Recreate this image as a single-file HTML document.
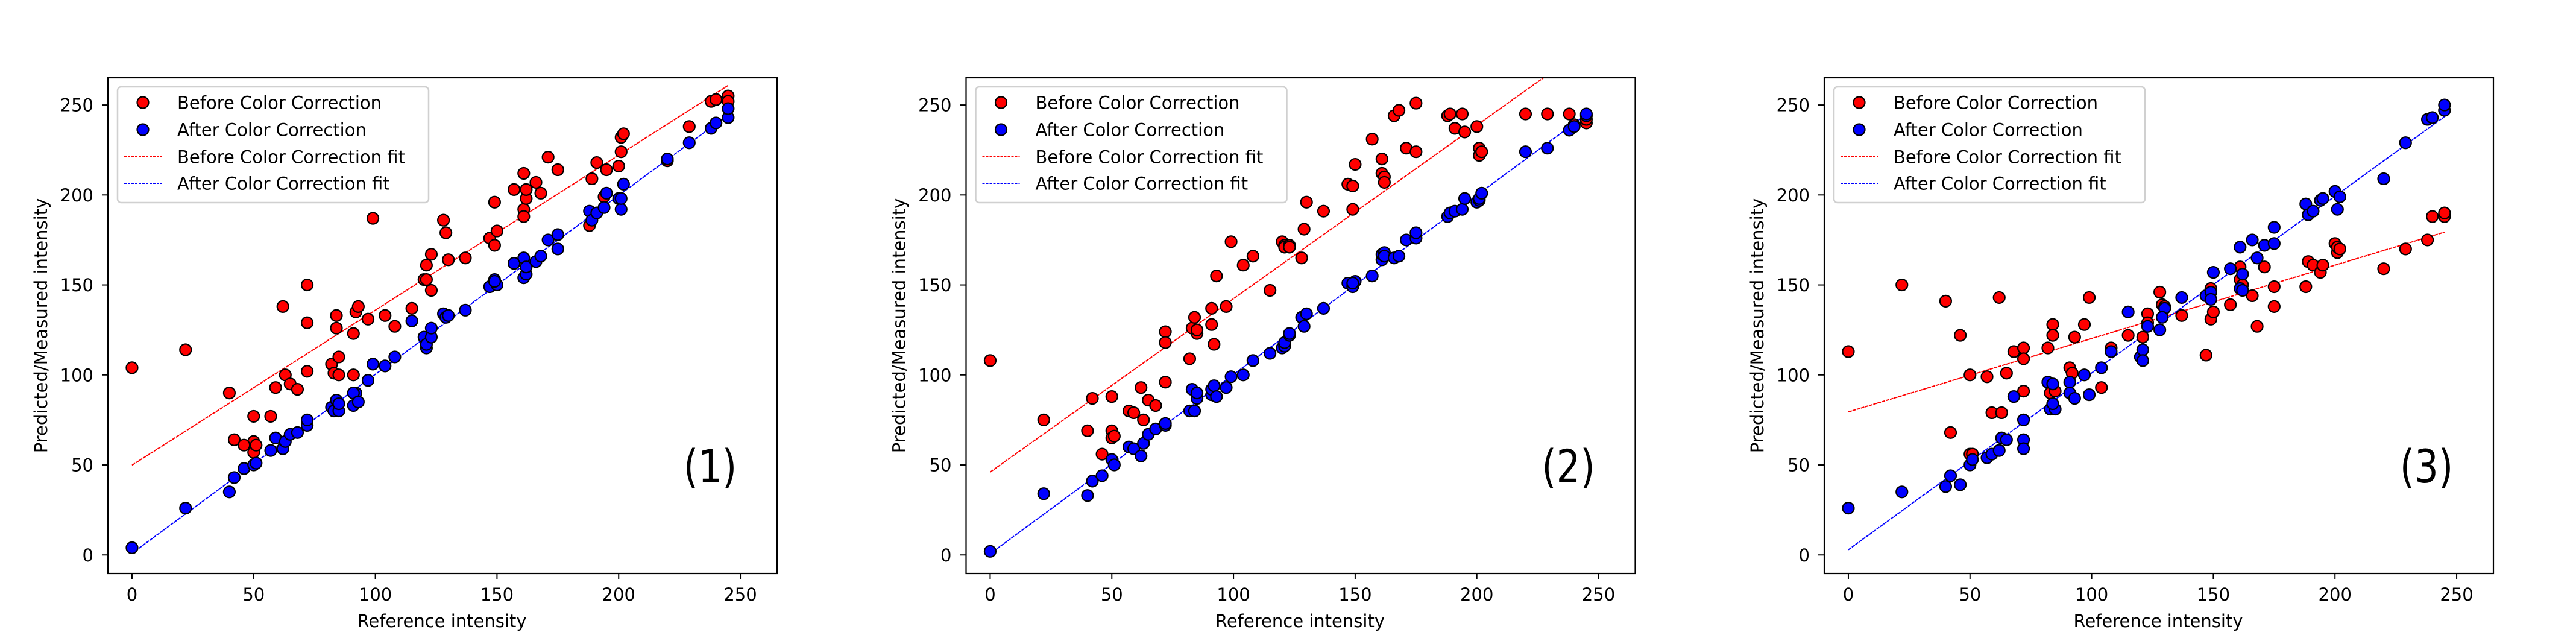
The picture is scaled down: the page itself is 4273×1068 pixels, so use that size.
<!DOCTYPE html>
<html><head><meta charset="utf-8"><style>
html,body{margin:0;padding:0;background:#fff}
svg{display:block}
text{font-family:"DejaVu Sans","Liberation Sans",sans-serif}
</style></head><body>
<svg id="fig" xmlns="http://www.w3.org/2000/svg" width="4273" height="1068" viewBox="0 0 4273 1068">
<rect width="4273" height="1068" fill="#fff"/>
</svg>
<script>
// ---- Data ----
const xTicks = [0, 50, 100, 150, 200, 250];
const yTicks = [0, 50, 100, 150, 200, 250];
const panelLabels = ["(1)", "(2)", "(3)"];
const legendLabels = ["Before Color Correction", "After Color Correction", "Before Color Correction fit", "After Color Correction fit"];

const p1BeforeX = [0,22,40,42,50,50,50,51,46,57,59,62,63,65,68,72,72,72,82,83,84,84,85,85,91,91,92,93,97,99,104,108,115,120,121,121,123,123,128,129,130,137,147,149,149,150,157,161,161,161,162,162,166,168,171,175,188,189,191,194,195,200,201,201,202,220,229,238,240,245,245];
const p1BeforeY = [104,114,90,64,77,63,57,61,61,77,93,138,100,95,92,150,129,102,106,101,133,126,110,100,100,123,135,138,131,187,133,127,137,153,161,153,167,147,186,179,164,165,176,196,172,180,203,212,192,188,198,203,207,201,221,214,183,209,218,199,214,216,224,232,234,219,238,252,253,255,252];
const p1AfterX = [0,22,40,42,46,50,51,57,59,62,63,65,68,72,72,82,83,84,85,85,91,92,91,93,97,99,104,108,115,120,121,121,123,123,128,129,130,137,147,149,150,149,157,161,161,162,162,166,168,171,175,175,188,189,191,194,195,200,201,201,202,220,229,238,240,245,245];
const p1AfterY = [4,26,35,43,48,50,51,58,65,59,63,67,68,72,75,82,80,86,80,84,83,90,90,85,97,106,105,110,130,121,115,117,121,126,134,132,133,136,149,153,150,152,162,154,165,156,160,163,166,175,170,178,191,186,190,193,201,198,192,198,206,220,229,237,240,243,248];

const p2BeforeX = [0,22,40,42,46,50,50,50,51,57,59,62,63,65,68,72,72,72,82,83,84,85,85,91,91,92,93,97,99,104,108,115,120,121,121,123,123,128,129,130,137,147,149,149,150,157,161,161,162,162,166,168,171,175,175,188,189,191,194,195,200,201,201,202,220,229,238,240,245,245];
const p2BeforeY = [108,75,69,87,56,88,69,65,66,80,79,93,75,86,83,124,118,96,109,126,132,123,125,137,128,117,155,138,174,161,166,147,174,172,171,172,171,165,181,196,191,206,205,192,217,231,220,212,210,207,244,247,226,251,224,244,245,237,245,235,238,226,222,224,245,245,245,239,240,242];
const p2AfterX = [0,22,40,42,46,50,51,57,59,62,63,65,68,72,72,82,83,84,85,85,91,91,92,93,97,99,104,108,115,120,121,121,123,123,128,129,130,137,147,149,150,149,157,161,161,162,162,166,168,171,175,175,188,189,191,194,195,200,201,201,202,220,229,238,240,245,245];
const p2AfterY = [2,34,33,41,44,53,50,60,59,55,62,67,70,72,73,80,92,80,87,90,89,92,94,88,93,99,100,108,112,115,116,118,122,123,132,127,134,137,151,149,152,151,155,164,167,168,166,165,166,175,176,179,188,190,191,192,198,196,197,198,201,224,226,236,238,244,245];

const p3BeforeX = [0,22,40,42,46,50,50,51,57,59,62,63,65,68,72,72,72,82,83,84,84,85,91,92,93,97,99,104,108,115,121,123,123,128,129,130,137,147,149,149,150,157,161,161,162,166,168,171,175,175,188,189,191,194,195,200,201,201,202,220,229,238,240,245,245];
const p3BeforeY = [113,150,141,68,122,100,56,56,99,79,143,79,101,113,115,109,91,115,90,128,122,91,104,101,121,128,143,93,115,122,121,134,129,146,139,138,133,111,148,131,135,139,160,153,150,144,127,160,149,138,149,163,161,157,161,173,168,171,170,159,170,175,188,188,190];
const p3AfterX = [0,22,40,42,46,50,51,57,59,62,63,65,68,72,72,72,82,83,84,85,84,91,91,93,97,99,104,108,115,120,121,121,123,130,129,128,137,147,149,149,150,157,161,161,162,162,166,168,171,175,175,188,189,191,194,195,200,201,202,220,229,238,240,245,245];
const p3AfterY = [26,35,38,44,39,50,53,54,56,58,65,64,88,75,64,59,96,81,95,81,84,96,90,87,100,89,104,113,135,110,114,108,127,137,132,125,143,144,146,142,157,159,171,148,156,147,175,165,172,182,173,195,189,191,197,198,202,192,199,209,229,242,243,247,250];

const panels = [
  {bx:p1BeforeX, by:p1BeforeY, ax:p1AfterX, ay:p1AfterY},
  {bx:p2BeforeX, by:p2BeforeY, ax:p2AfterX, ay:p2AfterY},
  {bx:p3BeforeX, by:p3BeforeY, ax:p3AfterX, ay:p3AfterY}
];

// ---- Layout ----
const NS = "http://www.w3.org/2000/svg";
const svg = document.getElementById('fig');
const AX_W = 1110, AX_TOP = 129, AX_BOT = 951;
const XMIN = -9.9, XMAX = 265.1, YMIN = -10.3, YMAX = 265.1;
function mk(tag, attrs, parent){
  const e = document.createElementNS(NS, tag);
  for (const k in attrs) e.setAttribute(k, attrs[k]);
  (parent||svg).appendChild(e);
  return e;
}
function fit(xs, ys){
  const n = xs.length; let sx=0,sy=0,sxx=0,sxy=0;
  for(let i=0;i<n;i++){sx+=xs[i];sy+=ys[i];sxx+=xs[i]*xs[i];sxy+=xs[i]*ys[i];}
  const m=(n*sxy-sx*sy)/(n*sxx-sx*sx); return {m:m, b:(sy-m*sx)/n};
}

panels.forEach((p, pi) => {
  const L = 179 + pi*1423.5;
  const xs = v => L + (v - XMIN) / (XMAX - XMIN) * AX_W;
  const ys = v => AX_BOT - (v - YMIN) / (YMAX - YMIN) * (AX_BOT - AX_TOP);
  const g = mk('g', {});
  
  
  const cid = 'clip' + pi;
  const defs = mk('defs', {}, g);
  const cp = mk('clipPath', {id: cid}, defs);
  mk('rect', {x: L, y: AX_TOP, width: AX_W, height: AX_BOT-AX_TOP}, cp);

  const minX = Math.min(...p.bx), maxX = Math.max(...p.bx);
  const fb = fit(p.bx, p.by), fa = fit(p.ax, p.ay);
  const lb = mk('line', {x1: xs(minX), y1: ys(fb.m*minX+fb.b), x2: xs(maxX), y2: ys(fb.m*maxX+fb.b), stroke:'#ff0000', 'stroke-width':2, 'stroke-dasharray':'6 1.2', 'clip-path':'url(#'+cid+')'}, g);
  
  
  const minA = Math.min(...p.ax), maxA = Math.max(...p.ax);
  const la = mk('line', {x1: xs(minA), y1: ys(fa.m*minA+fa.b), x2: xs(maxA), y2: ys(fa.m*maxA+fa.b), stroke:'#0000ff', 'stroke-width':2, 'stroke-dasharray':'6 1.2', 'clip-path':'url(#'+cid+')'}, g);
  
  

  p.bx.forEach((x, i) => {
    const c = mk('circle', {cx: xs(x), cy: ys(p.by[i]), r: 9.5, fill:'#ff0000', stroke:'#000', 'stroke-width':2.2}, g);
    
    
  });
  p.ax.forEach((x, i) => {
    const c = mk('circle', {cx: xs(x), cy: ys(p.ay[i]), r: 9.5, fill:'#0000ff', stroke:'#000', 'stroke-width':2.2}, g);
    
    
  });

  const fr = mk('rect', {x: L, y: AX_TOP, width: AX_W, height: AX_BOT-AX_TOP, fill:'none', stroke:'#000', 'stroke-width':2.2}, g);
  
  

  xTicks.forEach(t => {
    const X = xs(t);
    mk('line', {x1: X, y1: AX_BOT, x2: X, y2: AX_BOT+10, stroke:'#000', 'stroke-width':2}, g);
    const tx = mk('text', {x: X, y: 996, 'font-size': 29, 'text-anchor':'middle'}, g);
    tx.textContent = t;
    
    
  });
  yTicks.forEach(t => {
    const Y = ys(t);
    mk('line', {x1: L-10, y1: Y, x2: L, y2: Y, stroke:'#000', 'stroke-width':2}, g);
    const tx = mk('text', {x: L-24, y: Y+10.5, 'font-size': 29, 'text-anchor':'end'}, g);
    tx.textContent = t;
    
    
  });

  const xl = mk('text', {x: L + 554, y: 1040, 'font-size': 29, 'text-anchor':'middle'}, g);
  xl.textContent = 'Reference intensity';
  
  
  const yl = mk('text', {x: 0, y: 0, 'font-size': 29, 'text-anchor':'middle', transform:'translate(' + (L-101) + ',540) rotate(-90)'}, g);
  yl.textContent = 'Predicted/Measured intensity';
  
  

  const pl = mk('text', {x: 0, y: 0, 'font-size': 76, 'text-anchor':'middle', 'font-family':'"Liberation Sans", sans-serif', transform:'translate(' + (L + 999) + ',800) scale(0.82,1)'}, g);
  pl.textContent = panelLabels[pi];
  
  

  const lg = mk('g', {}, g);
  
  
  mk('rect', {x: L+16, y: 144, width: 516, height: 192, rx: 6, fill:'#fff', 'fill-opacity':0.8, stroke:'#d0d0d0', 'stroke-width':2.5}, lg);
  const rows = [170, 215, 260, 304];
  legendLabels.forEach((lab, i) => {
    const cy = rows[i];
    if (i < 2) {
      mk('circle', {cx: L+58, cy: cy, r: 9.5, fill: i===0?'#ff0000':'#0000ff', stroke:'#000', 'stroke-width':2.2}, lg);
    } else {
      mk('line', {x1: L+27, y1: cy, x2: L+89, y2: cy, stroke: i===2?'#ff0000':'#0000ff', 'stroke-width':2, 'stroke-dasharray':'4 2'}, lg);
    }
    const t = mk('text', {x: L+115, y: cy+10.5, 'font-size': 29}, lg);
    t.textContent = lab;
    
    
  });
});
</script>
</body></html>
